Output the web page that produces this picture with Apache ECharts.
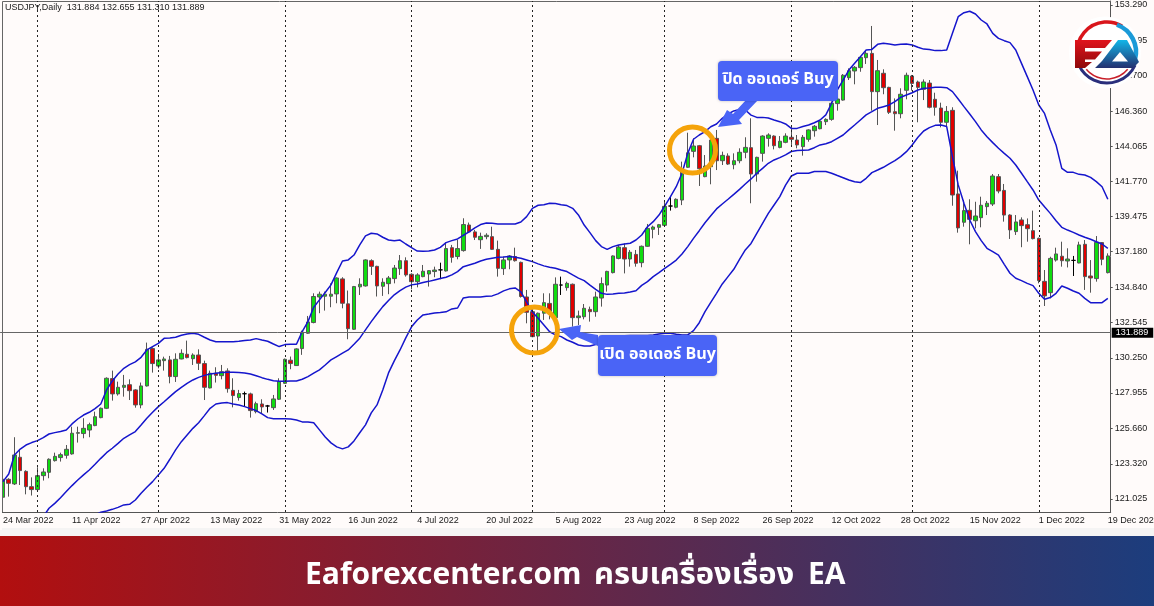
<!DOCTYPE html>
<html lang="en">
<head>
<meta charset="utf-8">
<title>USDJPY Daily</title>
<style>
    html, body { margin: 0; padding: 0; background: #fffbfa; }
    #chart { width: 1154px; height: 606px; }
</style>
</head>
<body>
<div id="chart"></div>
<script src="https://cdn.jsdelivr.net/npm/echarts@6/dist/echarts.min.js"></script>
<script>
var opens = [121.14,122.31,122.01,123.75,122.83,121.83,121.64,122.55,122.77,123.53,
123.73,123.88,123.97,125.32,125.30,125.53,125.82,126.34,126.95,128.89,
127.89,128.32,128.49,128.15,127.17,128.41,130.85,129.71,130.06,130.11,
129.02,130.17,130.48,130.19,130.43,129.87,128.28,129.24,129.08,129.39,
128.12,127.65,127.90,127.89,126.73,127.23,127.10,126.99,127.54,128.58,
130.09,129.74,130.85,131.85,132.55,134.22,134.27,134.27,134.42,135.40,
133.77,132.11,134.88,134.94,136.59,136.22,134.92,135.09,135.42,136.07,
136.59,135.70,135.22,135.55,135.72,135.88,135.99,135.92,137.44,136.86,
137.25,138.92,138.47,137.96,138.16,138.16,137.33,136.07,136.64,136.86,
136.48,134.22,133.26,131.67,133.16,133.80,132.87,135.00,134.83,135.05,
132.87,132.93,133.41,133.26,134.15,135.00,135.81,136.74,137.44,136.70,
137.00,136.46,137.53,138.64,138.77,138.90,140.16,140.08,140.55,142.69,
143.73,144.10,142.08,142.73,144.58,143.12,143.43,142.86,143.12,143.67,
143.97,142.25,143.60,144.58,144.73,143.99,144.32,144.65,144.47,144.04,
144.52,145.08,145.21,145.67,145.82,146.85,147.08,148.54,148.98,149.20,
149.85,150.13,147.63,148.83,147.91,146.32,146.19,147.72,148.65,148.26,
147.78,148.19,147.13,146.56,145.63,146.41,140.95,139.10,139.88,139.20,
139.40,140.12,140.29,142.08,141.18,139.57,138.49,139.25,138.94,138.55,
138.05,135.24,134.50,136.63,136.88,136.57,136.61,136.44,137.66,135.59,
135.42,137.77,135.81];

var closes = [122.31,122.05,123.90,122.88,121.83,121.64,122.55,122.79,123.62,123.81,
123.92,124.27,125.32,125.36,125.64,125.88,126.40,126.95,128.91,127.89,
128.32,128.45,128.10,127.17,128.41,130.80,129.87,130.11,130.17,129.02,
130.15,130.54,130.26,130.43,129.89,128.32,129.24,129.10,129.34,128.23,
127.78,127.91,127.90,126.80,127.25,127.04,127.10,127.56,128.69,130.15,
129.87,130.83,131.92,132.59,134.25,134.40,134.40,134.40,135.46,133.81,
132.15,134.90,135.05,136.64,136.22,134.94,135.18,135.46,136.11,136.59,
135.66,135.22,135.66,135.90,135.94,135.98,135.99,137.38,136.81,137.38,
138.95,138.47,138.12,138.18,138.25,137.33,136.09,136.64,136.90,136.59,
134.25,133.22,131.63,133.16,133.85,133.26,135.05,135.00,135.11,132.87,
132.98,133.48,133.26,134.22,135.09,135.89,136.90,137.48,136.70,137.14,
136.42,137.53,138.70,138.79,138.94,140.14,140.16,140.60,142.40,143.64,
144.08,142.60,142.77,144.47,143.12,143.47,142.90,143.12,143.67,143.99,
142.25,143.34,144.73,144.80,144.10,144.39,144.73,144.52,144.15,144.65,
145.13,145.37,145.69,145.82,146.87,147.15,148.70,149.00,149.22,149.87,
150.13,147.63,149.00,147.89,146.28,146.19,147.46,148.70,148.17,147.91,
148.26,146.61,146.61,145.63,146.34,140.88,138.73,139.86,139.29,139.51,
140.21,140.34,142.12,141.14,139.57,138.60,139.12,138.88,138.68,138.03,
135.29,134.29,136.74,137.03,136.59,136.70,136.61,137.62,135.55,135.46,
137.79,136.68,136.90];

var lows = [120.96,121.18,121.94,121.94,121.33,121.25,121.57,122.23,122.38,123.47,
123.47,123.66,123.92,124.71,124.99,125.06,125.78,126.30,126.90,127.45,
127.78,127.71,127.49,126.99,126.95,128.37,129.28,129.56,129.41,128.58,
128.67,130.15,130.21,129.78,129.45,127.49,128.25,128.63,128.84,127.97,
127.01,127.45,127.06,126.34,126.62,126.58,126.67,126.84,127.49,128.54,
129.50,129.72,130.44,131.81,132.50,133.16,133.33,133.55,133.81,133.48,
131.46,132.07,134.35,134.90,135.66,134.25,134.29,134.40,135.11,135.66,
135.55,134.72,134.85,135.51,134.90,135.51,135.38,135.88,136.46,136.68,
137.18,138.42,137.94,137.36,137.99,137.29,135.55,135.66,136.03,136.53,
134.18,132.50,131.59,130.44,132.72,132.76,132.28,134.35,134.63,132.28,
132.39,132.76,132.61,132.93,133.59,134.57,135.76,136.68,135.76,136.20,
136.20,136.16,137.50,138.05,138.27,138.86,139.86,140.01,140.22,142.65,
143.34,141.47,142.04,141.58,142.51,142.84,142.84,142.56,142.95,143.28,
140.34,141.75,143.06,144.04,143.86,143.93,144.26,144.15,143.93,143.45,
144.36,144.69,145.17,145.45,145.73,146.39,147.04,148.39,148.11,148.93,
149.44,146.39,145.45,147.46,146.17,145.08,145.89,147.13,147.70,145.63,
147.08,146.54,146.06,145.30,145.30,140.18,138.42,138.81,137.66,138.70,
138.77,139.57,140.16,140.99,139.14,138.01,138.27,137.47,137.83,137.98,
135.11,133.63,134.13,136.53,136.20,136.15,135.59,136.42,134.68,134.50,
135.22,136.29,135.76];

var highs = [122.31,122.38,125.06,124.23,122.90,122.44,123.10,123.03,123.68,124.05,
124.05,124.55,125.75,125.75,126.30,126.01,126.73,127.00,128.97,129.41,
128.69,129.13,128.84,128.20,128.63,131.24,130.93,130.50,130.32,130.37,
130.54,130.80,131.37,130.54,130.80,130.06,129.41,129.63,129.78,129.56,
128.91,128.15,128.04,127.97,127.38,127.54,127.17,127.82,128.91,130.20,
130.33,130.87,132.02,132.98,134.46,134.57,134.57,135.11,135.50,135.51,
134.64,134.94,135.44,136.68,136.68,136.26,135.44,135.59,136.31,136.96,
136.81,135.77,135.77,136.31,135.98,136.20,136.46,137.77,137.62,137.94,
139.36,139.08,138.60,138.42,138.38,138.81,137.90,136.86,136.96,137.44,
136.53,134.68,133.63,133.20,134.46,134.46,135.50,135.55,135.22,135.10,
133.33,133.76,133.59,134.57,135.50,135.93,136.94,137.61,137.72,137.29,
137.29,137.58,138.99,138.88,138.99,140.55,140.77,140.66,143.06,144.95,
144.58,144.15,143.49,144.52,145.13,143.71,143.60,143.60,143.93,144.65,
145.89,143.38,144.78,144.91,144.78,144.73,144.91,145.34,144.80,144.80,
145.17,145.45,145.78,145.89,146.98,147.41,148.78,149.15,149.30,149.91,
150.35,151.92,149.70,149.09,147.95,147.19,147.85,148.87,148.72,148.35,
148.43,148.39,147.56,146.91,146.69,146.61,142.47,140.55,140.60,140.44,
140.77,140.49,142.25,142.25,141.60,139.62,139.57,139.42,139.35,139.86,
138.10,135.98,136.85,137.44,137.83,137.40,136.90,137.83,137.94,136.63,
138.20,137.81,137.07];

var upperBand = [122.16,122.66,123.90,124.29,124.55,124.71,124.84,125.03,125.27,125.36,
125.43,125.53,125.93,126.25,126.51,126.69,126.93,127.23,128.15,128.73,
129.19,129.56,129.80,129.98,130.28,130.76,130.98,131.19,131.52,131.54,
131.59,131.72,131.80,131.85,131.78,131.59,131.41,131.30,131.30,131.30,
131.30,131.33,131.37,131.41,131.50,131.41,131.33,131.15,130.98,131.11,
131.13,131.13,131.96,132.61,133.55,134.03,134.51,135.01,135.81,136.57,
136.64,136.96,137.62,138.21,138.38,138.34,138.12,137.94,137.90,137.94,
137.68,137.44,137.22,137.20,137.22,137.29,137.46,137.77,137.90,138.01,
138.25,138.47,138.73,138.95,139.05,139.03,138.99,138.99,138.99,138.99,
139.12,139.47,140.01,140.21,140.25,140.34,140.32,140.25,140.19,140.01,
139.58,138.92,138.42,137.90,137.51,137.33,137.51,137.62,137.68,137.73,
137.94,138.27,138.81,139.14,139.57,140.16,140.77,141.42,142.30,143.60,
144.52,144.80,145.02,145.34,145.52,145.89,146.17,146.37,146.47,146.43,
146.10,145.95,145.95,145.91,145.78,145.67,145.52,145.23,145.23,145.35,
145.45,145.60,145.78,146.11,146.87,147.74,148.39,149.04,149.48,149.91,
150.35,150.39,150.72,150.79,150.74,150.68,150.72,150.74,150.68,150.53,
150.41,150.39,150.31,150.31,150.35,151.44,152.53,152.79,152.88,152.70,
152.31,152.05,151.44,151.11,150.96,150.83,150.35,149.48,148.61,147.74,
146.76,146.21,145.13,144.15,142.62,142.36,142.36,142.23,142.19,142.03,
141.75,141.42,140.60];

var middleBand = [null,null,null,null,null,null,null,119.87,120.42,120.74,
121.11,121.51,121.90,122.27,122.60,122.92,123.29,123.68,124.05,124.34,
124.66,124.99,125.21,125.43,125.86,126.30,126.69,127.06,127.38,127.71,
128.04,128.32,128.58,128.80,128.97,129.10,129.19,129.24,129.28,129.30,
129.30,129.28,129.26,129.19,129.08,128.95,128.84,128.75,128.71,128.71,
128.73,128.73,128.85,129.02,129.24,129.46,129.78,130.11,130.33,130.55,
130.76,131.13,131.53,132.07,132.61,133.11,133.59,133.99,134.36,134.64,
134.86,135.01,135.07,135.16,135.24,135.33,135.42,135.51,135.66,135.88,
136.20,136.31,136.42,136.57,136.68,136.75,136.81,136.83,136.86,136.81,
136.75,136.64,136.53,136.38,136.25,136.16,136.09,135.98,135.88,135.66,
135.45,135.29,135.00,134.72,134.46,134.39,134.42,134.46,134.48,134.54,
134.63,134.98,135.22,135.55,135.81,136.09,136.35,136.63,137.03,137.51,
138.05,138.55,139.07,139.53,139.97,140.29,140.60,140.92,141.25,141.60,
141.93,142.30,142.62,142.95,143.17,143.32,143.50,143.72,143.78,143.80,
143.82,143.97,144.15,144.23,144.36,144.58,144.80,145.13,145.45,145.78,
146.11,146.32,146.54,146.65,146.76,146.98,147.26,147.41,147.56,147.74,
147.85,147.87,147.91,147.91,147.89,147.63,147.15,146.65,146.17,145.67,
145.13,144.69,144.30,143.93,143.60,143.28,142.84,142.30,141.75,141.21,
140.55,140.11,139.68,139.20,138.77,138.59,138.44,138.27,138.12,137.99,
137.83,137.68,137.40];

var lowerBand = [null,null,null,null,null,null,null,null,null,null,
null,null,null,null,null,null,119.98,120.16,120.24,120.35,
120.48,120.64,120.68,120.96,121.40,121.79,122.16,122.60,123.03,123.62,
124.23,124.77,125.21,125.64,126.01,126.47,126.95,127.23,127.30,127.32,
127.23,127.17,127.06,126.93,126.80,126.58,126.34,126.27,126.27,126.27,
126.25,126.19,126.06,126.06,126.00,125.54,125.08,124.69,124.43,124.30,
124.43,124.82,125.35,125.87,126.65,127.17,128.15,129.26,130.05,130.76,
131.55,132.27,132.72,133.05,133.11,133.18,133.21,133.25,133.44,133.50,
134.16,134.22,134.22,134.22,134.26,134.29,134.42,134.62,134.75,134.81,
134.55,133.90,133.24,132.83,132.39,131.95,131.74,131.63,131.41,131.26,
131.08,131.02,131.02,131.11,131.24,131.37,131.50,131.63,131.69,131.71,
131.71,131.71,131.71,131.74,131.80,131.85,131.85,131.78,131.74,131.74,
132.02,132.54,133.26,133.87,134.46,135.07,135.55,136.03,136.68,137.29,
137.72,138.38,139.03,139.68,140.23,140.77,141.53,142.12,142.30,142.30,
142.30,142.41,142.41,142.41,142.30,142.15,142.01,141.86,141.75,141.69,
141.97,142.34,142.51,142.69,142.91,143.13,143.39,143.71,144.15,144.65,
145.06,145.28,145.43,145.45,145.35,143.39,141.54,140.34,139.25,138.49,
137.90,137.40,137.18,136.96,136.35,135.77,135.44,135.29,135.11,134.96,
134.46,134.07,134.18,134.46,134.94,134.79,134.61,134.46,134.13,133.85,
133.85,133.85,134.13];

var priceTicks = [153.290,150.995,148.700,146.360,144.065,141.770,139.475,137.180,134.840,132.545,130.250,127.955,125.660,123.320,121.025];
var currentPrice = 131.889;
var monthStarts = ['1 Apr 2022','2 May 2022','1 Jun 2022','1 Jul 2022','1 Aug 2022','1 Sep 2022','3 Oct 2022','1 Nov 2022','1 Dec 2022'];

// trading days, weekdays only, starting 24 Mar 2022
var monthNames = ['Jan','Feb','Mar','Apr','May','Jun','Jul','Aug','Sep','Oct','Nov','Dec'];
var categories = [];
var day = new Date(Date.UTC(2022, 2, 24));
while (categories.length < opens.length) {
    if (day.getUTCDay() !== 0 && day.getUTCDay() !== 6) {
        categories.push(day.getUTCDate() + ' ' + monthNames[day.getUTCMonth()] + ' ' + day.getUTCFullYear());
    }
    day.setUTCDate(day.getUTCDate() + 1);
}

var candles = opens.map(function (o, i) { return [o, closes[i], lows[i], highs[i]]; });

var axisFont = '"Liberation Sans", Arial, sans-serif';
var thaiFont = '"Noto Sans Thai", "Noto Sans", "Open Sans", sans-serif';
var blue = '#4a64f6';
var orange = '#f5a30a';

var markLines = monthStarts.map(function (d) {
    return { xAxis: d, label: { show: false }, lineStyle: { color: '#222', type: [2, 3], width: 1 } };
});
markLines.push({
    yAxis: currentPrice,
    lineStyle: { color: '#666', type: 'solid', width: 1 },
    label: {
        show: true, position: 'end', distance: 1, formatter: currentPrice.toFixed(3),
        color: '#fff', backgroundColor: '#000', padding: [1, 5, 0, 4],
        fontFamily: axisFont, fontSize: 9
    }
});

function bandSeries(name, values) {
    return {
        name: name, type: 'line', data: values, showSymbol: false, symbol: 'none',
        lineStyle: { color: '#1515cc', width: 1.5 }, silent: true, z: 4
    };
}

function callout(x, y, w, h, text) {
    return [
        { type: 'rect', z: 30, shape: { x: x, y: y, width: w, height: h, r: 4 },
          style: { fill: blue, shadowBlur: 3, shadowColor: 'rgba(0,0,0,0.25)' } },
        { type: 'text', z: 31, x: x + w / 2, y: y + h / 2,
          style: { text: text, fill: '#fff', font: 'bold 16px ' + thaiFont, align: 'center', verticalAlign: 'middle' } }
    ];
}

function ring(cx, cy) {
    return { type: 'circle', z: 28, shape: { cx: cx, cy: cy, r: 23 }, style: { fill: 'none', stroke: orange, lineWidth: 5 } };
}

function arrow(points) {
    return { type: 'polygon', z: 29, shape: { points: points }, style: { fill: blue } };
}

function logoArc(r, from, to, color, width) {
    return {
        type: 'arc', z: 41,
        shape: { cx: 1107, cy: 52, r: r, startAngle: from * Math.PI / 180, endAngle: to * Math.PI / 180, clockwise: true },
        style: { fill: 'none', stroke: color, lineWidth: width }
    };
}

function bannerText(x, text, scale) {
    return { type: 'text', z: 51, x: x, y: 578, scaleX: scale,
      style: { text: text, fill: '#fff', font: 'bold 30px ' + thaiFont, align: 'left', verticalAlign: 'middle' } };
}

var redFill = new echarts.graphic.LinearGradient(0, 0, 0, 1, [{ offset: 0, color: '#e0141c' }, { offset: 1, color: '#8e0a0c' }]);
var blueFill = new echarts.graphic.LinearGradient(0, 0, 0, 1, [{ offset: 0, color: '#12b6e8' }, { offset: 1, color: '#23306f' }]);

var graphics = [
    // chart frame left and top, MT4 style
    { type: 'rect', z: 3, shape: { x: 0, y: 0, width: 2, height: 530 }, style: { fill: '#fffbfa' } },
    { type: 'line', z: 3, shape: { x1: 2.5, y1: 1.5, x2: 2.5, y2: 512 }, style: { stroke: '#666', lineWidth: 1 } },
    { type: 'line', z: 3, shape: { x1: 2.5, y1: 1.5, x2: 1111, y2: 1.5 }, style: { stroke: '#666', lineWidth: 1 } },

    ring(534.5, 330), ring(692.5, 150),
    arrow([[559, 329], [581, 325], [580, 332], [598, 335], [598, 346], [577, 337], [572, 340]]),
    arrow([[718, 127], [727, 110], [733, 114], [746, 100], [758, 100], [739, 120], [742, 124]])
]
.concat(callout(718, 61, 120, 40, 'ปิด ออเดอร์ Buy'))
.concat(callout(598, 335, 119, 41, 'เปิด ออเดอร์ Buy'))
.concat([
    // logo
    { type: 'circle', z: 40, shape: { cx: 1105, cy: 52.5, r: 36 }, style: { fill: '#fff' } },
    logoArc(30, 175, 300, '#d9161c', 3.5),
    logoArc(29, 290, 375, '#1a9ad8', 4.5),
    logoArc(31, 25, 155, '#2a2f7c', 3),
    logoArc(27, 40, 140, '#c8202a', 1.5),
    { type: 'polygon', z: 42, shape: { points: [[1075, 40], [1112, 40], [1105, 48], [1085, 48], [1085, 51.5], [1102, 51.5], [1095, 59.5], [1085, 59.5], [1085, 62], [1092, 62], [1085, 68], [1075, 68]] }, style: { fill: redFill } },
    { type: 'polygon', z: 42, shape: { points: [[1118, 40], [1127, 40], [1139, 62], [1133, 68], [1095, 68], [1102, 61]] }, style: { fill: blueFill } },
    { type: 'polygon', z: 43, shape: { points: [[1120, 52], [1128, 61.5], [1112, 61.5]] }, style: { fill: '#fff' } },

    // bottom banner
    { type: 'rect', z: 1, shape: { x: 0, y: 528, width: 1154, height: 8 }, style: { fill: '#f5f4f4' } },
    { type: 'rect', z: 50, shape: { x: 0, y: 536, width: 1154, height: 70 },
      style: { fill: new echarts.graphic.LinearGradient(0, 0, 1, 0, [{ offset: 0, color: '#b20f0f' }, { offset: 1, color: '#1c3d7d' }]) } },
    bannerText(305, 'Eaforexcenter.com', 1),
    bannerText(594, 'ครบเครื่องเรื่อง', 1.03),
    bannerText(808, 'EA', 1)
]);

var chart = echarts.init(document.getElementById('chart'));
chart.setOption({
    animation: false,
    backgroundColor: '#fffbfa',
    title: {
        text: 'USDJPY,Daily  131.884 132.655 131.310 131.889',
        left: 5, top: 3, padding: 0,
        textStyle: { fontFamily: axisFont, fontSize: 9, fontWeight: 'normal', color: '#1a1a1a' }
    },
    grid: { left: 0.1, top: 1, width: 1110.6, height: 511, outerBoundsMode: 'none' },
    xAxis: {
        type: 'category',
        data: categories,
        axisLine: { lineStyle: { color: '#555' } },
        axisTick: { interval: 11, alignWithLabel: true, length: 3, inside: true, lineStyle: { color: '#555' } },
        axisLabel: { interval: 11, align: 'left', margin: 4, color: '#1a1a1a', fontFamily: axisFont, fontSize: 9, hideOverlap: false },
        splitLine: { show: false }
    },
    yAxis: {
        type: 'value',
        position: 'right',
        // y = 5 is 153.29, y = 499 is 121.025
        min: 120.176,
        max: 153.551,
        scale: true,
        splitLine: { show: false },
        axisLine: { show: true, onZero: false, lineStyle: { color: '#555' } },
        axisTick: { show: true, length: 2, customValues: priceTicks, lineStyle: { color: '#555' } },
        axisLabel: {
            customValues: priceTicks, margin: 4, color: '#1a1a1a', fontFamily: axisFont, fontSize: 9,
            showMinLabel: true, showMaxLabel: true,
            formatter: function (v) { return v.toFixed(3); }
        }
    },
    series: [
        {
            type: 'candlestick',
            data: candles,
            barWidth: 4,
            silent: true,
            itemStyle: {
                color: '#10dc10', color0: '#e00000',
                borderColor: '#555', borderColor0: '#555', borderColorDoji: '#000', borderWidth: 1
            },
            markLine: { silent: true, symbol: 'none', animation: false, data: markLines }
        },
        bandSeries('Upper', upperBand),
        bandSeries('Middle', middleBand),
        bandSeries('Lower', lowerBand)
    ],
    graphic: graphics
});
</script>
</body>
</html>
